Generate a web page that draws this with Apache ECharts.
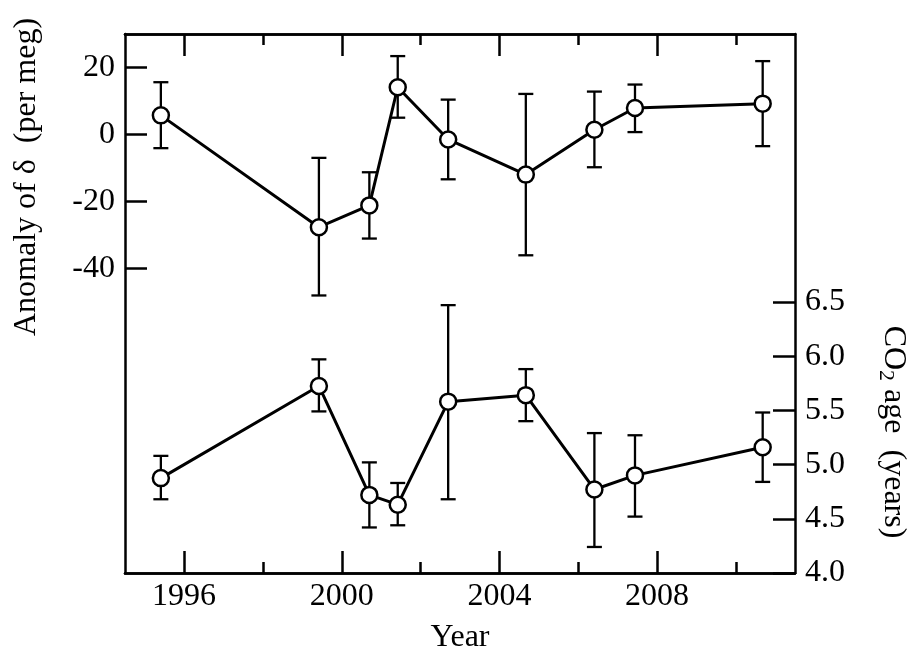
<!DOCTYPE html>
<html>
<head>
<meta charset="utf-8">
<script src="https://cdn.jsdelivr.net/npm/echarts@6/dist/echarts.min.js"></script>
<style>
  html, body { margin: 0; padding: 0; background: #fff; }
  #chart { width: 916px; height: 649px; }
</style>
</head>
<body>
<div id="chart"></div>
<script>
//----------------------------------------------------------------------------------
// data
//----------------------------------------------------------------------------------

var years = [1995.41, 1999.42, 2000.70, 2001.42, 2002.70, 2004.67, 2006.41, 2007.44, 2010.68];

// upper panel: anomaly of delta (per meg)
var anomaly = [5.7, -27.7, -21.2, 14.1, -1.5, -12.0, 1.4, 7.9, 9.2];
var anomalyLow = [-4.1, -48.1, -31.1, 5.0, -13.4, -36.1, -9.8, 0.7, -3.5];
var anomalyHigh = [15.6, -7.0, -11.3, 23.4, 10.4, 12.1, 12.8, 14.9, 21.9];

// lower panel: CO2 age (years)
var co2Age = [4.875, 5.725, 4.72, 4.63, 5.58, 5.64, 4.77, 4.90, 5.16];
var co2Low = [4.68, 5.49, 4.42, 4.44, 4.68, 5.40, 4.24, 4.52, 4.84];
var co2High = [5.08, 5.97, 5.02, 4.83, 6.47, 5.88, 5.29, 5.27, 5.48];

// ticks
var yearMajor = [1996, 2000, 2004, 2008];
var yearMinor = [1998, 2002, 2006, 2010];
var anomalyTicks = [-40, -20, 0, 20];
var co2Ticks = [4.0, 4.5, 5.0, 5.5, 6.0, 6.5];

//----------------------------------------------------------------------------------
// chart
//----------------------------------------------------------------------------------

var FONT = '"Liberation Serif", "DejaVu Serif", serif';
var chart = echarts.init(document.getElementById('chart'));

function pairs(xs, ys) {
    var out = [];
    for (var i = 0; i < xs.length; i++) out.push([xs[i], ys[i]]);
    return out;
}

function bars(xs, lo, hi) {
    var out = [];
    for (var i = 0; i < xs.length; i++) out.push([xs[i], lo[i], hi[i]]);
    return out;
}

function errorBarRender(params, api) {
    var x = api.value(0);
    var p1 = api.coord([x, api.value(1)]);
    var p2 = api.coord([x, api.value(2)]);
    var cap = 7.5;
    var st = { stroke: '#000', lineWidth: 2.3, fill: null };
    return {
        type: 'group',
        children: [
            { type: 'line', shape: { x1: p1[0], y1: p1[1], x2: p2[0], y2: p2[1] }, style: st },
            { type: 'line', shape: { x1: p1[0] - cap, y1: p1[1], x2: p1[0] + cap, y2: p1[1] }, style: st },
            { type: 'line', shape: { x1: p2[0] - cap, y1: p2[1], x2: p2[0] + cap, y2: p2[1] }, style: st }
        ]
    };
}

function xAxisCfg(pos, ticks, len, labels) {
    return {
        type: 'value',
        position: pos,
        min: 1994.5,
        max: 2011.5,
        axisLine: { show: true, onZero: false, lineStyle: { color: '#000', width: 2.5 } },
        axisTick: { show: true, inside: true, length: len, customValues: ticks, lineStyle: { color: '#000', width: 2.5 } },
        axisLabel: labels ? {
            show: true, customValues: ticks, margin: 8,
            color: '#000', fontFamily: FONT, fontSize: 32,
            formatter: function (v) { return String(v); }
        } : { show: false },
        splitLine: { show: false }
    };
}

var option = {
    animation: false,
    backgroundColor: '#fff',
    grid: { left: 125, right: 121, top: 34, bottom: 76, containLabel: false },
    xAxis: [
        xAxisCfg('bottom', yearMajor, 22, true),
        xAxisCfg('bottom', yearMinor, 11, false),
        xAxisCfg('top', yearMajor, 22, false),
        xAxisCfg('top', yearMinor, 11, false)
    ],
    yAxis: [{
        type: 'value',
        position: 'left',
        min: -131,
        max: 30,
        axisLine: { show: true, onZero: false, lineStyle: { color: '#000', width: 2.5 } },
        axisTick: { show: true, inside: true, length: 22, customValues: anomalyTicks, lineStyle: { color: '#000', width: 2.5 } },
        axisLabel: { customValues: anomalyTicks, margin: 10, color: '#000', fontFamily: FONT, fontSize: 32 },
        splitLine: { show: false }
    }, {
        type: 'value',
        position: 'right',
        min: 4,
        max: 8.97,
        axisLine: { show: true, onZero: false, lineStyle: { color: '#000', width: 2.5 } },
        axisTick: { show: true, inside: true, length: 22, customValues: co2Ticks, lineStyle: { color: '#000', width: 2.5 } },
        axisLabel: {
            customValues: co2Ticks, margin: 10, color: '#000', fontFamily: FONT, fontSize: 32,
            formatter: function (v) { return v.toFixed(1); }
        },
        splitLine: { show: false }
    }],
    graphic: [{
        type: 'text',
        x: 27, y: 177,
        rotation: Math.PI / 2,
        style: {
            text: 'Anomaly of δ  (per meg)',
            fill: '#000', font: '32px ' + FONT,
            align: 'center', verticalAlign: 'middle'
        }
    }, {
        type: 'text',
        x: 893, y: 432,
        rotation: -Math.PI / 2,
        style: {
            text: 'CO{sub|2} age  (years)',
            fill: '#000', font: '32px ' + FONT,
            align: 'center', verticalAlign: 'middle',
            rich: { sub: { fontSize: 22, fontFamily: FONT, fill: '#000', padding: [14, 0, 0, 0] } }
        }
    }, {
        type: 'text',
        x: 460, y: 638,
        style: {
            text: 'Year',
            fill: '#000', font: '32px ' + FONT,
            align: 'center', verticalAlign: 'middle'
        }
    }],
    series: [{
        type: 'custom',
        xAxisIndex: 0, yAxisIndex: 0,
        renderItem: errorBarRender,
        data: bars(years, anomalyLow, anomalyHigh),
        z: 1
    }, {
        type: 'custom',
        xAxisIndex: 0, yAxisIndex: 1,
        renderItem: errorBarRender,
        data: bars(years, co2Low, co2High),
        z: 1
    }, {
        type: 'line',
        xAxisIndex: 0, yAxisIndex: 0,
        data: pairs(years, anomaly),
        symbol: 'circle', symbolSize: 16,
        lineStyle: { color: '#000', width: 3 },
        itemStyle: { color: '#fff', borderColor: '#000', borderWidth: 2.5 },
        z: 3
    }, {
        type: 'line',
        xAxisIndex: 0, yAxisIndex: 1,
        data: pairs(years, co2Age),
        symbol: 'circle', symbolSize: 16,
        lineStyle: { color: '#000', width: 3 },
        itemStyle: { color: '#fff', borderColor: '#000', borderWidth: 2.5 },
        z: 3
    }]
};

chart.setOption(option);
</script>
</body>
</html>
